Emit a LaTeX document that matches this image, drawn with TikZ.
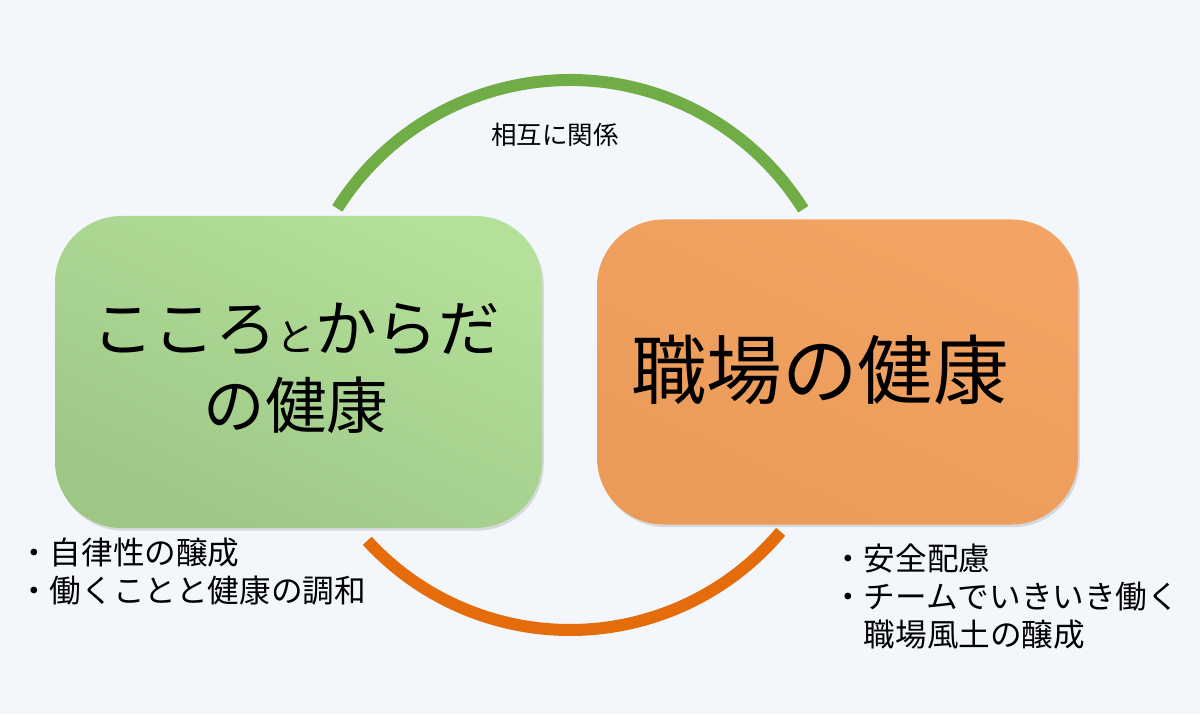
\documentclass[tikz,border=0pt]{standalone}
\usepackage{fontspec}
\setmainfont{Noto Sans CJK JP}
\usetikzlibrary{shadows}
\definecolor{bg}{HTML}{F3F6FA}
\definecolor{gA}{HTML}{B4E09A}
\definecolor{gB}{HTML}{9EC786}
\definecolor{oA}{HTML}{F3A464}
\definecolor{oB}{HTML}{EA9B58}
\definecolor{arcG}{HTML}{70AD47}
\definecolor{arcO}{HTML}{E46C0A}
\tikzset{
 box/.style={rounded corners=38, minimum width=487*0.02cm, minimum height=312*0.02cm, drop shadow={opacity=0.25,shadow xshift=1pt,shadow yshift=-1.5pt}},
 big/.style={font=\fontsize{35}{44}\selectfont, align=center},
 bullet/.style={font=\fontsize{18}{21.5}\selectfont, align=left, anchor=north west},
}
\begin{document}
\begin{tikzpicture}[x=0.02cm,y=0.02cm]
\fill[bg] (0,0) rectangle (1200,714);
\useasboundingbox (0,0) rectangle (1200,714);
\coordinate (c) at (570,359);
\draw[arcG, line width=12*0.02cm] ([shift={(147.8:275)}]c) arc[start angle=147.8,end angle=32,radius=275];
\draw[arcO, line width=12*0.02cm] ([shift={(222.5:275)}]c) arc[start angle=222.5,end angle=320,radius=275];
\node[box, shading=axis, top color=gA, bottom color=gB, shading angle=-25] (g) at (298.5,342) {};
\node[box, minimum width=481*0.02cm, minimum height=305*0.02cm, shading=axis, top color=oA, bottom color=oB, shading angle=-25] (o) at (837.5,342) {};
\node[big] (gt) at (296,346) {こころ{\fontsize{22}{22}\selectfont と}からだ\\の健康};
\node[big, font=\fontsize{43}{50}\selectfont] (ot) at (820,344) {職場の健康};
\node[font=\fontsize{14.5}{16}\selectfont] (lbl) at (555,579) {相互に関係};
\node[bullet] (b1) at (12,182) {・自律性の醸成\\・働くことと健康の調和};
\node[bullet] (b2) at (826,176) {・安全配慮\\・チームでいきいき働く\\\hspace{1em}職場風土の醸成};
\end{tikzpicture}
\end{document}
